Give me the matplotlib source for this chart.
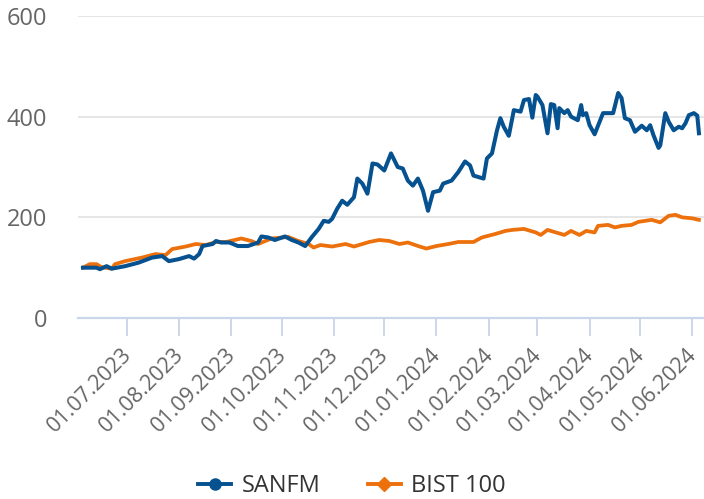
"""SANFM vs BIST 100 — indexed performance (start = 100)."""
import matplotlib
matplotlib.use("Agg")
import matplotlib.pyplot as plt
import matplotlib.dates as mdates
import matplotlib.transforms as mtransforms
from matplotlib.lines import Line2D
import pandas as pd

# ── data ────────────────────────────────────────────────────────────────────
sanfm_dates = [
    "2023-06-05", "2023-06-13", "2023-06-15", "2023-06-19", "2023-06-22",
    "2023-06-30", "2023-07-08", "2023-07-16", "2023-07-22", "2023-07-26",
    "2023-08-01", "2023-08-07", "2023-08-10", "2023-08-13", "2023-08-15",
    "2023-08-21", "2023-08-23", "2023-08-26", "2023-08-31", "2023-09-05",
    "2023-09-11", "2023-09-17", "2023-09-19", "2023-09-23", "2023-09-27",
    "2023-10-03", "2023-10-07", "2023-10-11", "2023-10-15", "2023-10-19",
    "2023-10-23", "2023-10-26", "2023-10-29", "2023-10-31", "2023-11-03",
    "2023-11-06", "2023-11-09", "2023-11-13", "2023-11-15", "2023-11-18",
    "2023-11-21", "2023-11-24", "2023-11-27", "2023-12-01", "2023-12-05",
    "2023-12-09", "2023-12-12", "2023-12-15", "2023-12-18", "2023-12-21",
    "2023-12-24", "2023-12-27", "2023-12-30", "2024-01-03", "2024-01-05",
    "2024-01-10", "2024-01-14", "2024-01-18", "2024-01-21", "2024-01-23",
    "2024-01-29", "2024-01-31", "2024-02-03", "2024-02-06", "2024-02-08",
    "2024-02-10", "2024-02-13", "2024-02-16", "2024-02-20", "2024-02-22",
    "2024-02-25", "2024-02-27", "2024-02-29", "2024-03-01", "2024-03-04",
    "2024-03-07", "2024-03-09", "2024-03-11", "2024-03-13", "2024-03-14",
    "2024-03-17", "2024-03-19", "2024-03-21", "2024-03-25", "2024-03-27",
    "2024-03-28", "2024-03-30", "2024-04-01", "2024-04-04", "2024-04-09",
    "2024-04-15", "2024-04-18", "2024-04-20", "2024-04-22", "2024-04-25",
    "2024-04-28", "2024-05-02", "2024-05-05", "2024-05-07", "2024-05-09",
    "2024-05-12", "2024-05-13", "2024-05-16", "2024-05-18", "2024-05-21",
    "2024-05-24", "2024-05-26", "2024-05-28", "2024-05-30", "2024-06-02",
    "2024-06-04", "2024-06-05",
]
sanfm_values = [
    100, 100, 97, 103, 98,
    103, 110, 120, 123, 113,
    117, 123, 118, 127, 143,
    147, 153, 150, 150, 143,
    143, 150, 162, 160, 155,
    162, 155, 150, 143, 161,
    177, 193, 191, 197, 217,
    233, 225, 240, 277, 267,
    247, 307, 305, 293, 327,
    300, 297, 273, 263, 277,
    253, 213, 250, 253, 267,
    273, 290, 311, 303, 283,
    277, 317, 327, 373, 397,
    380, 362, 413, 410, 433,
    435, 398, 443, 440, 423,
    367, 425, 423, 377, 417,
    407, 413, 400, 393, 423,
    403, 407, 383, 365, 407,
    407, 447, 437, 397, 393,
    370, 382, 373, 383, 363,
    338, 343, 407, 390, 373,
    380, 377, 387, 403, 407,
    402, 367,
]

bist_dates = [
    "2023-06-05", "2023-06-09", "2023-06-13", "2023-06-16", "2023-06-22",
    "2023-06-24", "2023-06-30", "2023-07-10", "2023-07-18", "2023-07-24",
    "2023-07-28", "2023-08-05", "2023-08-11", "2023-08-17", "2023-08-23",
    "2023-08-29", "2023-09-07", "2023-09-13", "2023-09-17", "2023-09-25",
    "2023-10-05", "2023-10-11", "2023-10-17", "2023-10-20", "2023-10-24",
    "2023-10-31", "2023-11-08", "2023-11-13", "2023-11-22", "2023-11-28",
    "2023-12-04", "2023-12-10", "2023-12-15", "2023-12-22", "2023-12-26",
    "2024-01-01", "2024-01-08", "2024-01-14", "2024-01-23", "2024-01-28",
    "2024-02-05", "2024-02-11", "2024-02-15", "2024-02-22", "2024-02-29",
    "2024-03-03", "2024-03-07", "2024-03-17", "2024-03-21", "2024-03-26",
    "2024-03-30", "2024-04-04", "2024-04-06", "2024-04-12", "2024-04-16",
    "2024-04-20", "2024-04-26", "2024-04-30", "2024-05-08", "2024-05-13",
    "2024-05-18", "2024-05-22", "2024-05-26", "2024-06-01", "2024-06-05",
]
bist_values = [
    100, 107, 107, 101, 98,
    107, 113, 120, 127, 125,
    137, 142, 147, 145, 151,
    151, 158, 153, 147, 158,
    161, 153, 147, 140, 145,
    142, 147, 142, 151, 155,
    153, 147, 150, 142, 138,
    143, 147, 151, 151, 160,
    167, 173, 175, 177, 170,
    165, 175, 165, 173, 165,
    173, 170, 183, 185, 180,
    183, 185, 191, 195, 190,
    203, 205, 200, 198, 195,
]

x_start, x_end = "2023-06-02", "2024-06-08"
y_ticks = [0, 200, 400, 600]

# ── colours ────────────────────────────────────────────────────────────────
C_SANFM = "#06518f"
C_BIST  = "#ec700c"
C_GRID  = "#e6e6e6"
C_AXIS  = "#ccd6eb"
C_LABEL = "#666666"
C_TEXT  = "#333333"

plt.rcParams["font.family"] = ["Open Sans", "DejaVu Sans"]

fig = plt.figure(figsize=(7.04, 4.99), dpi=100, facecolor="white")
ax = fig.add_axes([78 / 704, 1 - 318 / 499, 626 / 704, 302 / 499])

ax.plot(pd.to_datetime(bist_dates), bist_values, color=C_BIST, lw=2.7,
        solid_joinstyle="round", zorder=3)
ax.plot(pd.to_datetime(sanfm_dates), sanfm_values, color=C_SANFM, lw=2.9,
        solid_joinstyle="round", zorder=4)

ax.set_xlim(pd.Timestamp(x_start), pd.Timestamp(x_end))
ax.set_ylim(0, 600)
ax.set_yticks(y_ticks)
ax.yaxis.grid(True, color=C_GRID, lw=1.4)
ax.set_axisbelow(True)

for side in ("top", "right", "left"):
    ax.spines[side].set_visible(False)
ax.spines["bottom"].set_color(C_AXIS)
ax.spines["bottom"].set_linewidth(1.6)
ax.spines["bottom"].set_zorder(5)

ax.xaxis.set_major_locator(mdates.MonthLocator(bymonthday=1))
ax.xaxis.set_major_formatter(mdates.DateFormatter("%d.%m.%Y"))
ax.tick_params(axis="x", direction="out", length=13, width=1.4,
               color=C_AXIS, labelcolor=C_LABEL, labelsize=15.5, pad=3)
ax.tick_params(axis="y", length=0, labelcolor=C_LABEL, labelsize=17, pad=22)

# nudge rotated date labels so their tips sit just under the ticks
shift = mtransforms.ScaledTranslation(-6 / 100, -4 / 100, fig.dpi_scale_trans)
for lbl in ax.get_xticklabels():
    lbl.set_rotation(45)
    lbl.set_ha("right")
    lbl.set_rotation_mode("anchor")
    lbl.set_transform(lbl.get_transform() + shift)

handles = [
    Line2D([], [], color=C_SANFM, lw=2.8, marker="o", markersize=8),
    Line2D([], [], color=C_BIST, lw=2.8, marker="D", markersize=7),
]
fig.legend(handles, ["SANFM", "BIST 100"], loc="center",
           bbox_to_anchor=(352 / 704, 1 - 486 / 499), ncol=2, frameon=False,
           fontsize=17, labelcolor=C_TEXT, handlelength=1.4,
           handletextpad=0.45, columnspacing=2.0)

fig.savefig("out.png", dpi=100)
